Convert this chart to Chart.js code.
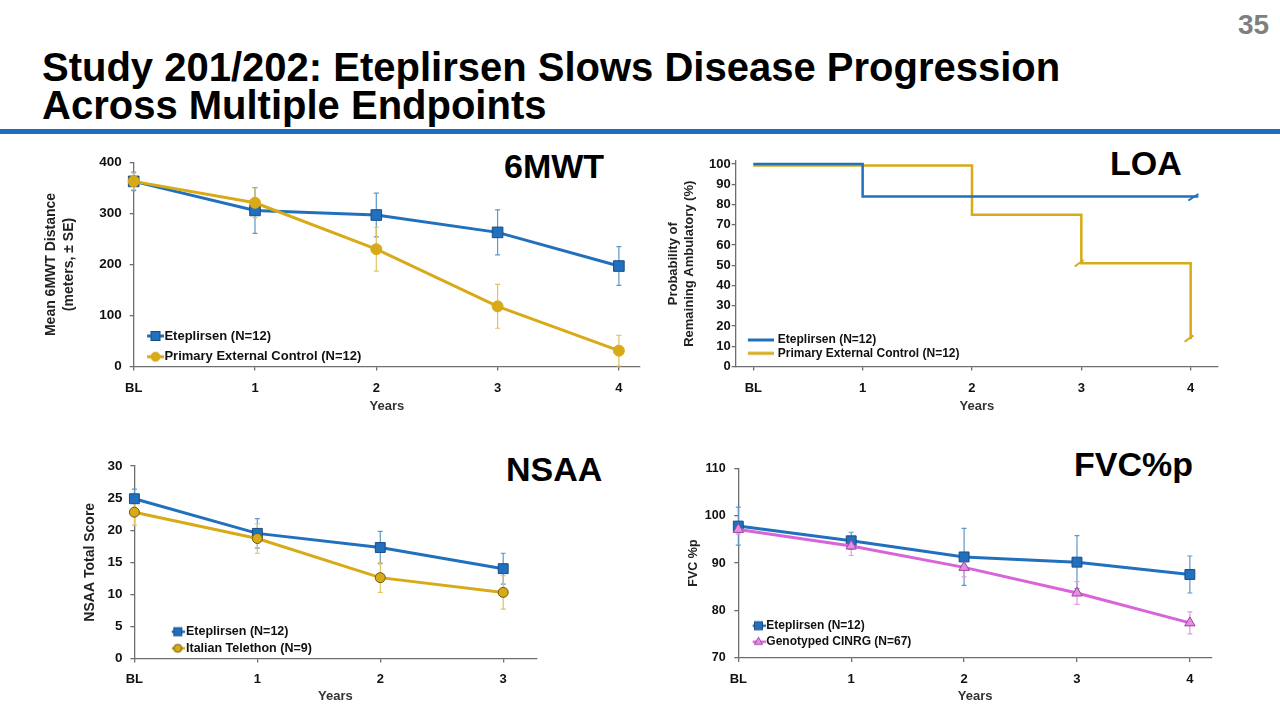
<!DOCTYPE html>
<html><head><meta charset="utf-8">
<script src="https://cdn.jsdelivr.net/npm/chart.js@4.4.1/dist/chart.umd.min.js"></script>
<style>
html,body{margin:0;padding:0;background:#fff;width:1280px;height:720px;overflow:hidden;font-family:'Liberation Sans',Arial,Helvetica,sans-serif;}
.abs{position:absolute;white-space:nowrap;}
#title{left:42px;top:48px;font-size:40px;font-weight:bold;line-height:38.3px;color:#000;}
#pnum{left:1238px;top:11px;font-size:28px;font-weight:bold;line-height:28px;color:#7f7f7f;}
#rule{left:0;top:129px;width:1280px;height:5px;background:#1b6ec2;}
.big{font-size:34px;font-weight:bold;line-height:34px;color:#000;}
canvas{position:absolute;}
</style></head><body>
<div id="pnum" class="abs">35</div>
<div id="title" class="abs">Study 201/202: Eteplirsen Slows Disease Progression<br>Across Multiple Endpoints</div>
<div id="rule" class="abs"></div>
<div class="abs big" style="left:504px;top:149px;">6MWT</div>
<div class="abs big" style="left:1110px;top:145.6px;">LOA</div>
<div class="abs big" style="left:506px;top:451.6px;">NSAA</div>
<div class="abs big" style="left:1074px;top:447.3px;">FVC%p</div>
<canvas id="c6mwt"></canvas>
<canvas id="cloa"></canvas>
<canvas id="cnsaa"></canvas>
<canvas id="cfvc"></canvas>
<script>
// ---------------- DATA ----------------
// 6MWT
const mwtTickLabels = ['BL','1','2','3','4'];
const mwtYears = [0,1,2,3,4];
const mwtEteplirsen = [363,306,297,263,197];
const mwtEteplirsenSE = [18,45,43,44,38];
const mwtControl = [363,321,230,118,31];
const mwtControlSE = [16,29,43,43,30];

// LOA (Kaplan-Meier style steps)
const loaTickLabels = ['BL','1','2','3','4'];
const loaEteTimes = [0,1,4.07];
const loaEteProb = [100,84,84];
const loaCtrlTimes = [0,2,3,4];
const loaCtrlProb = [99.3,75,51,13.4];
const loaEteCensorTimes = [4.025];
const loaEteCensorProb = [83.6];
const loaCtrlCensorTimes = [2.98,3.985];
const loaCtrlCensorProb = [51,13.8];

// NSAA
const nsaaTickLabels = ['BL','1','2','3'];
const nsaaYears = [0,1,2,3];
const nsaaEteplirsen = [24.9,19.5,17.3,14.0];
const nsaaEteplirsenSE = [1.5,2.3,2.5,2.4];
const nsaaTelethon = [22.8,18.7,12.6,10.3];
const nsaaTelethonSE = [2.0,2.3,2.3,2.6];

// FVC%p
const fvcTickLabels = ['BL','1','2','3','4'];
const fvcYears = [0,1,2,3,4];
const fvcEteplirsen = [97.8,94.7,91.3,90.2,87.6];
const fvcEteplirsenSE = [4.0,1.8,6.0,5.6,3.9];
const fvcCinrg = [97.1,93.6,89.1,83.7,77.4];
const fvcCinrgSE = [1.0,2.0,2.0,2.4,2.3];

// ---------------- STYLE ----------------
const BLUE = '#2170bd', BLUE_DARK = '#1b4d85', BLUE_ERR = '#5f97cb';
const YELLOW = '#d9aa18', YELLOW_DARK = '#6b5713', YELLOW_ERR = '#e3c260';
const PINK = '#d963d9', PINK_FILL = '#e38de3', PINK_DARK = '#9e449e', PINK_ERR = '#e49ae4';
const AXIS = '#6e6e6e';
Chart.defaults.font.family = "'Liberation Sans', Arial, Helvetica, sans-serif";

const pts = (xs, ys) => xs.map((x, i) => ({ x: x, y: ys[i] }));

function mkLegendImg(w, color, lw, marker) {
  const c = document.createElement('canvas');
  c.width = Math.round(w); c.height = 14;
  const x = c.getContext('2d');
  x.strokeStyle = color; x.lineWidth = lw;
  x.beginPath(); x.moveTo(0, 7); x.lineTo(c.width, 7); x.stroke();
  if (marker) marker(x, c.width / 2, 7);
  return c;
}
const sq = (fill, stroke, s) => (x, cx, cy) => { x.fillStyle = fill; x.strokeStyle = stroke; x.lineWidth = 1; x.fillRect(cx - s/2, cy - s/2, s, s); x.strokeRect(cx - s/2, cy - s/2, s, s); };
const circ = (fill, stroke, r) => (x, cx, cy) => { x.fillStyle = fill; x.strokeStyle = stroke; x.lineWidth = 1; x.beginPath(); x.arc(cx, cy, r, 0, Math.PI*2); x.fill(); x.stroke(); };
const tri = (fill, stroke, r) => (x, cx, cy) => { x.fillStyle = fill; x.strokeStyle = stroke; x.lineWidth = 1; x.beginPath(); x.moveTo(cx, cy - r); x.lineTo(cx + r*0.9, cy + r*0.6); x.lineTo(cx - r*0.9, cy + r*0.6); x.closePath(); x.fill(); x.stroke(); };

const errorBarPlugin = {
  id: 'errorBars',
  beforeDatasetsDraw(chart) {
    const { ctx } = chart; const xs = chart.scales.x, ys = chart.scales.y;
    chart.data.datasets.forEach((ds) => {
      if (!ds.errors) return;
      ctx.save(); ctx.strokeStyle = ds.errorColor; ctx.lineWidth = 1.2;
      ds.data.forEach((p, j) => {
        const e = ds.errors[j];
        const px = xs.getPixelForValue(p.x);
        const y1 = ys.getPixelForValue(p.y + e), y2 = ys.getPixelForValue(p.y - e);
        ctx.beginPath();
        ctx.moveTo(px, y1); ctx.lineTo(px, y2);
        ctx.moveTo(px - 2.5, y1); ctx.lineTo(px + 2.5, y1);
        ctx.moveTo(px - 2.5, y2); ctx.lineTo(px + 2.5, y2);
        ctx.stroke();
      });
      ctx.restore();
    });
  }
};

function legendPlacer(g) {
  return { id: 'legendPlacer', afterLayout(chart) {
    const L = chart.legend; if (!L) return;
    const lg = g.legend, p = lg.S - lg.F;
    const x0 = lg.T - lg.b - lg.F / 2 - g.cx;
    L.left = x0 - p; L.width = 400; L.right = L.left + 400;
    L.top = lg.R1 - lg.F / 2 - p - g.cy; L.height = p + 2 * lg.S + 2; L.bottom = L.top + L.height;
  }};
}

function buildChart(id, g, datasets) {
  const cv = document.getElementById(id);
  cv.width = g.cw; cv.height = g.ch;
  cv.style.left = g.cx + 'px'; cv.style.top = g.cy + 'px';
  cv.style.width = g.cw + 'px'; cv.style.height = g.ch + 'px';
  const lg = g.legend;
  return new Chart(cv, {
    type: 'line',
    data: { datasets: datasets },
    options: {
      responsive: false, animation: false, devicePixelRatio: 1,
      layout: { padding: { left: 0, top: g.top - g.cy, right: g.cx + g.cw - g.right, bottom: g.cy + g.ch - g.bottom - g.xH } },
      plugins: {
        tooltip: { enabled: false },
        legend: {
          position: 'chartArea', align: 'start',
          labels: {
            usePointStyle: true, pointStyleWidth: lg.b, padding: lg.S - lg.F,
            color: '#111', font: { size: lg.F, weight: 'bold' },
            generateLabels: (chart) => chart.data.datasets.map((ds, i) => ({
              text: ds.label, pointStyle: ds.legendImg, datasetIndex: i, hidden: false,
              lineWidth: 0, rotation: 0, fontColor: '#111',
              strokeStyle: 'rgba(0,0,0,0)', fillStyle: 'rgba(0,0,0,0)'
            })).filter(it => !!chart.data.datasets[it.datasetIndex].legendImg)
          }
        }
      },
      scales: {
        x: {
          type: 'linear', min: g.xmin, max: g.xmax,
          afterFit: (s) => { s.height = g.xH; },
          border: { display: true, color: AXIS, width: 1.3 },
          grid: { display: true, drawOnChartArea: false, drawTicks: true, tickLength: 4, color: AXIS, lineWidth: 1.3 },
          ticks: {
            stepSize: 1, includeBounds: false, autoSkip: false, maxRotation: 0, minRotation: 0,
            padding: g.xTickPad, color: '#111', font: { size: 13, weight: 'bold' },
            callback: (v) => { const k = Math.round(v); return (Math.abs(v - k) < 1e-6 && g.xLabels[k] !== undefined) ? g.xLabels[k] : ''; }
          },
          title: { display: true, text: 'Years', color: '#333', font: { size: 13, weight: 'bold', lineHeight: 1.2 }, padding: { top: 0, bottom: 0 } }
        },
        y: {
          type: 'linear', min: g.ymin, max: g.ymax,
          afterFit: (s) => { s.width = g.left - g.cx; },
          border: { display: true, color: AXIS, width: 1.3 },
          grid: { display: true, drawOnChartArea: false, drawTicks: true, tickLength: 4, color: AXIS, lineWidth: 1.3 },
          ticks: { stepSize: g.ystep, includeBounds: false, padding: g.yTickPad, color: '#111', font: { size: g.yTickSize, weight: 'bold' } },
          title: { display: true, text: g.yTitle, color: '#222', font: { size: g.yTitleSize, weight: 'bold', lineHeight: g.yTitleLH }, padding: { top: g.yTitlePad, bottom: 0 } }
        }
      }
    },
    plugins: [errorBarPlugin, legendPlacer(g)]
  });
}

// ---------------- CHARTS ----------------
buildChart('c6mwt', {
  cx: 0, cy: 140, cw: 660, ch: 280,
  left: 133.7, right: 640, top: 162.5, bottom: 366.5,
  xmin: 0, xmax: 4.174, ymin: 0, ymax: 400, ystep: 100, yTickSize: 13.5,
  xLabels: mwtTickLabels,
  yTitle: ['Mean 6MWT Distance', '(meters, \u00B1 SE)'], yTitleSize: 14, yTitleLH: 18/14, yTitlePad: 42.5,
  yTickPad: 8, xTickPad: 9.7, xH: 48,
  legend: { T: 164.4, R1: 336, S: 20.7, F: 13, b: 4.8 }
}, [
  { label: 'Eteplirsen (N=12)', data: pts(mwtYears, mwtEteplirsen), errors: mwtEteplirsenSE, errorColor: BLUE_ERR,
    borderColor: BLUE, borderWidth: 3, tension: 0, clip: false, order: 1,
    pointStyle: 'rect', pointRadius: 7.5, pointBackgroundColor: BLUE, pointBorderColor: BLUE_DARK, pointBorderWidth: 1,
    legendImg: mkLegendImg(17, BLUE, 3, sq(BLUE, BLUE_DARK, 9)) },
  { label: 'Primary External Control (N=12)', data: pts(mwtYears, mwtControl), errors: mwtControlSE, errorColor: YELLOW_ERR,
    borderColor: YELLOW, borderWidth: 3, tension: 0, clip: false, order: 0,
    pointStyle: 'circle', pointRadius: 5.5, pointBackgroundColor: YELLOW, pointBorderColor: YELLOW, pointBorderWidth: 1,
    legendImg: mkLegendImg(17, YELLOW, 3, circ(YELLOW, YELLOW, 4.5)) }
]);

buildChart('cloa', {
  cx: 640, cy: 140, cw: 600, ch: 280,
  left: 735.7, right: 1218, top: 161, bottom: 366.5,
  xmin: -0.161, xmax: 4.25, ymin: 0, ymax: 101.5, ystep: 10, yTickSize: 13,
  xLabels: loaTickLabels,
  yTitle: ['Probability of', 'Remaining Ambulatory (%)'], yTitleSize: 13, yTitleLH: 16/13, yTitlePad: 25.7,
  yTickPad: 1, xTickPad: 10, xH: 48,
  legend: { T: 777.8, R1: 340, S: 13.3, F: 12, b: 22.6 }
}, [
  { label: 'Eteplirsen (N=12)', data: pts(loaEteTimes, loaEteProb), stepped: true,
    borderColor: BLUE, borderWidth: 2.5, pointRadius: 0, clip: false, fill: false,
    legendImg: mkLegendImg(27, BLUE, 3, null) },
  { label: 'Primary External Control (N=12)', data: pts(loaCtrlTimes, loaCtrlProb), stepped: true,
    borderColor: YELLOW, borderWidth: 2.5, pointRadius: 0, clip: false, fill: false,
    legendImg: mkLegendImg(27, YELLOW, 3, null) },
  { label: 'Eteplirsen censored', data: pts(loaEteCensorTimes, loaEteCensorProb), showLine: false, clip: false,
    pointStyle: 'line', pointRotation: -33, pointRadius: 6, pointBorderColor: BLUE, pointBorderWidth: 2 },
  { label: 'Control censored', data: pts(loaCtrlCensorTimes, loaCtrlCensorProb), showLine: false, clip: false,
    pointStyle: 'line', pointRotation: -36, pointRadius: 5.5, pointBorderColor: YELLOW, pointBorderWidth: 2 }
]);

buildChart('cnsaa', {
  cx: 0, cy: 440, cw: 660, ch: 280,
  left: 134.4, right: 536.4, top: 466, bottom: 658.5,
  xmin: 0, xmax: 3.27, ymin: 0, ymax: 30, ystep: 5, yTickSize: 13.5,
  xLabels: nsaaTickLabels,
  yTitle: 'NSAA Total Score', yTitleSize: 14, yTitleLH: 1.2, yTitlePad: 81.3,
  yTickPad: 8, xTickPad: 9, xH: 46,
  legend: { T: 186, R1: 631.7, S: 16.6, F: 12.5, b: 3.9 }
}, [
  { label: 'Eteplirsen (N=12)', data: pts(nsaaYears, nsaaEteplirsen), errors: nsaaEteplirsenSE, errorColor: BLUE_ERR,
    borderColor: BLUE, borderWidth: 3, tension: 0, clip: false, order: 1,
    pointStyle: 'rect', pointRadius: 7, pointBackgroundColor: BLUE, pointBorderColor: BLUE_DARK, pointBorderWidth: 1,
    legendImg: mkLegendImg(15.4, BLUE, 2.5, sq(BLUE, BLUE_DARK, 8)) },
  { label: 'Italian Telethon (N=9)', data: pts(nsaaYears, nsaaTelethon), errors: nsaaTelethonSE, errorColor: YELLOW_ERR,
    borderColor: YELLOW, borderWidth: 3, tension: 0, clip: false, order: 0,
    pointStyle: 'circle', pointRadius: 5, pointBackgroundColor: YELLOW, pointBorderColor: YELLOW_DARK, pointBorderWidth: 1,
    legendImg: mkLegendImg(15.4, YELLOW, 2.5, circ(YELLOW, YELLOW_DARK, 4)) }
]);

buildChart('cfvc', {
  cx: 640, cy: 440, cw: 600, ch: 280,
  left: 738.3, right: 1212, top: 468.2, bottom: 658,
  xmin: 0, xmax: 4.196, ymin: 70, ymax: 110, ystep: 10, yTickSize: 12.5,
  xLabels: fvcTickLabels,
  yTitle: 'FVC %p', yTitleSize: 12.5, yTitleLH: 1.2, yTitlePad: 46.5,
  yTickPad: 8.6, xTickPad: 9.5, xH: 46.5,
  legend: { T: 766.3, R1: 625.7, S: 16, F: 12, b: 3.6 }
}, [
  { label: 'Eteplirsen (N=12)', data: pts(fvcYears, fvcEteplirsen), errors: fvcEteplirsenSE, errorColor: BLUE_ERR,
    borderColor: BLUE, borderWidth: 3, tension: 0, clip: false, order: 1,
    pointStyle: 'rect', pointRadius: 7, pointBackgroundColor: BLUE, pointBorderColor: BLUE_DARK, pointBorderWidth: 1,
    legendImg: mkLegendImg(15, BLUE, 2.5, sq(BLUE, BLUE_DARK, 8)) },
  { label: 'Genotyped CINRG (N=67)', data: pts(fvcYears, fvcCinrg), errors: fvcCinrgSE, errorColor: PINK_ERR,
    borderColor: PINK, borderWidth: 3, tension: 0, clip: false, order: 0,
    pointStyle: 'triangle', pointRadius: 6, pointBackgroundColor: PINK_FILL, pointBorderColor: PINK_DARK, pointBorderWidth: 1,
    legendImg: mkLegendImg(15, PINK, 2.5, tri(PINK_FILL, PINK_DARK, 4.5)) }
]);
</script>
</body></html>
